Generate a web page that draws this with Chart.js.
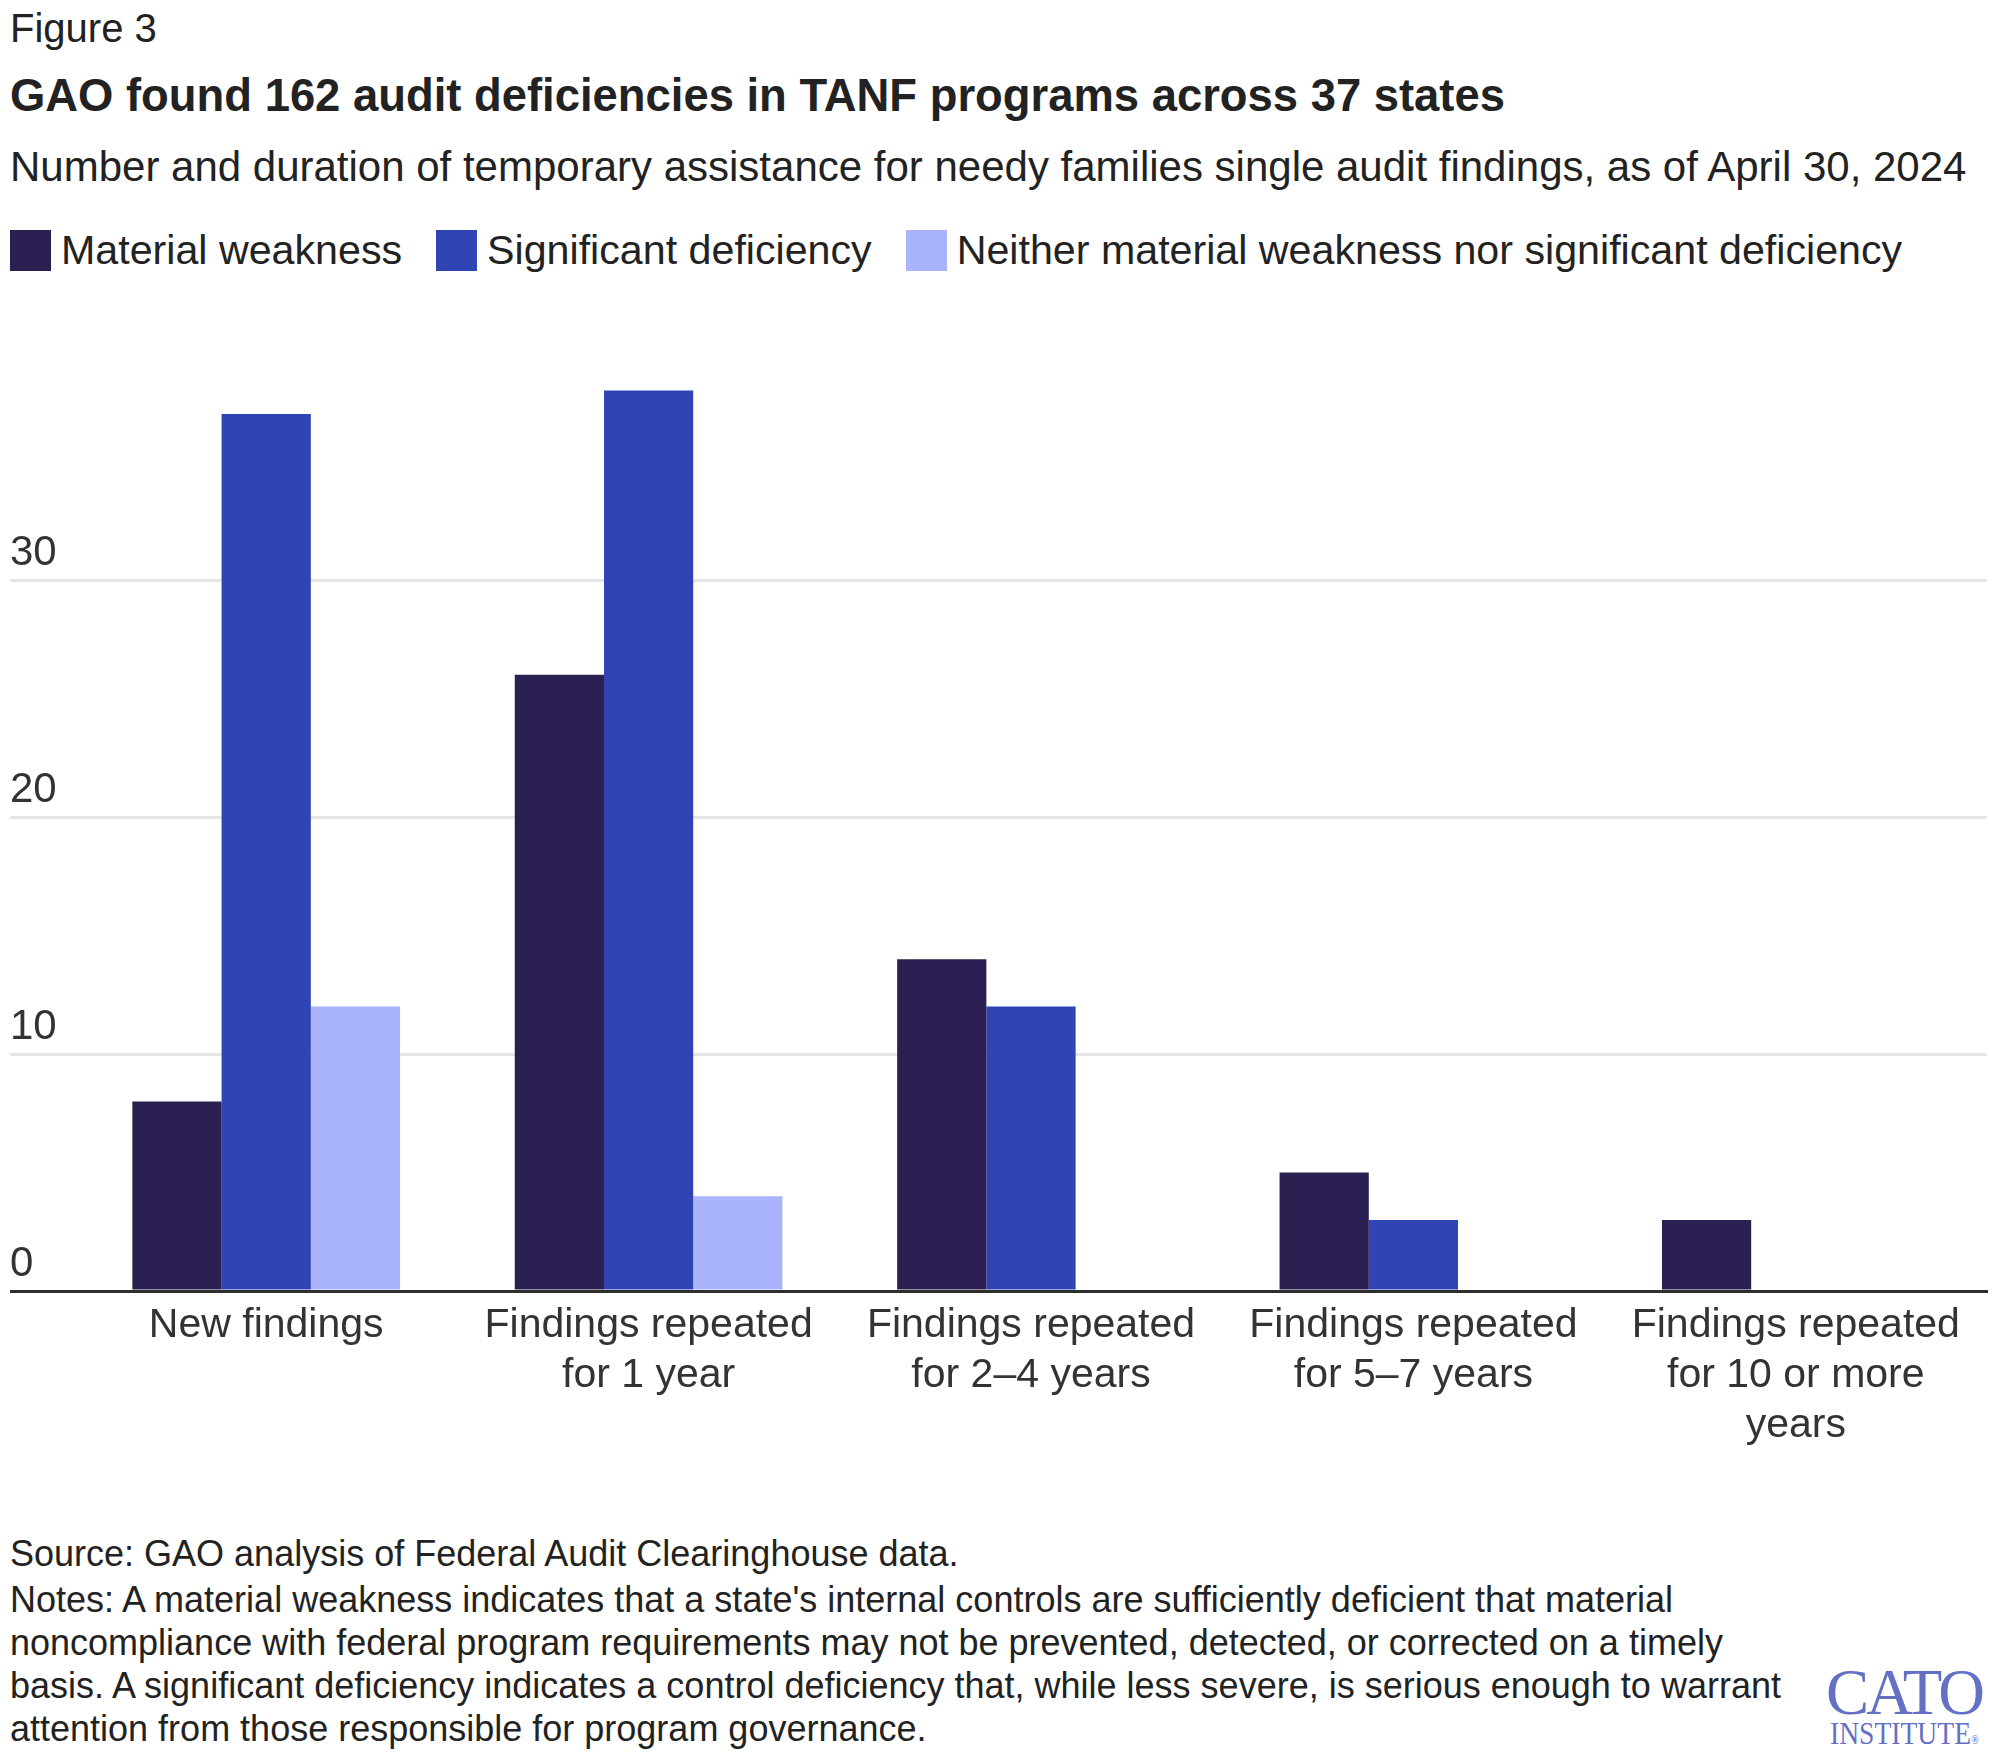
<!DOCTYPE html>
<html><head><meta charset="utf-8">
<script src="https://cdn.jsdelivr.net/npm/chart.js@4.4.1/dist/chart.umd.min.js"></script>
<style>
html,body{margin:0;padding:0;background:#fff;}
body{width:1997px;height:1763px;position:relative;overflow:hidden;font-family:"Liberation Sans",Arial,sans-serif;color:#222;}
.abs{position:absolute;white-space:nowrap;}
#fig{left:10px;top:4px;font-size:40px;line-height:48px;}
#title{left:10px;top:69px;font-size:45.4px;font-weight:bold;line-height:54px;}
#sub{left:10px;top:143px;font-size:42px;line-height:48px;}
#legend{left:10px;top:230px;height:41px;display:flex;align-items:center;}
.li{display:flex;align-items:center;margin-right:34px;font-size:41.2px;line-height:41px;}
.sw{width:41px;height:41px;margin-right:10px;flex:none;}
#wrap{position:absolute;left:0;top:300px;width:1997px;height:1180px;}
#notes{left:10px;top:1532px;font-size:36px;line-height:43px;color:#222;}
#notes div.src{margin-bottom:3px;}
#logo{left:1826px;top:1664px;color:#6470c4;font-family:"Liberation Serif","DejaVu Serif",serif;}
#logo .c{font-size:66px;line-height:56px;transform:scaleX(0.98);transform-origin:left top;letter-spacing:-3px;}
#logo .i{font-size:31px;line-height:28px;transform:scaleX(0.89);transform-origin:left top;margin-left:4px;}
</style></head>
<body>
<div id="fig" class="abs">Figure 3</div>
<div id="title" class="abs">GAO found 162 audit deficiencies in TANF programs across 37 states</div>
<div id="sub" class="abs">Number and duration of temporary assistance for needy families single audit findings, as of April 30, 2024</div>
<div id="legend" class="abs"></div>
<div id="wrap"><canvas id="c"></canvas></div>
<div id="notes" class="abs">
<div class="src">Source: GAO analysis of Federal Audit Clearinghouse data.</div>
<div>Notes: A material weakness indicates that a state's internal controls are sufficiently deficient that material</div>
<div>noncompliance with federal program requirements may not be prevented, detected, or corrected on a timely</div>
<div>basis. A significant deficiency indicates a control deficiency that, while less severe, is serious enough to warrant</div>
<div>attention from those responsible for program governance.</div>
</div>
<div id="logo" class="abs"><div class="c">CATO</div><div class="i">INSTITUTE<span style="font-size:12px">®</span></div></div>
<script>
const categories = [
  ["New findings"],
  ["Findings repeated", "for 1 year"],
  ["Findings repeated", "for 2–4 years"],
  ["Findings repeated", "for 5–7 years"],
  ["Findings repeated", "for 10 or more", "years"]
];
const seriesNames = ["Material weakness", "Significant deficiency", "Neither material weakness nor significant deficiency"];
const materialWeakness = [8, 26, 14, 5, 3];
const significantDeficiency = [37, 38, 12, 3, 0];
const neitherValues = [12, 4, 0, 0, 0];
const seriesColors = ["#2c2052", "#2f45b3", "#aab4fc"];
const yTicks = [0, 10, 20, 30];

const FONT = '"Liberation Sans", Arial, sans-serif';

// HTML legend
const lg = document.getElementById('legend');
seriesNames.forEach((n, i) => {
  const d = document.createElement('div'); d.className = 'li';
  const s = document.createElement('div'); s.className = 'sw'; s.style.background = seriesColors[i];
  const t = document.createElement('span'); t.textContent = n;
  d.appendChild(s); d.appendChild(t); lg.appendChild(d);
});

const seriesValues = [materialWeakness, significantDeficiency, neitherValues];
const canvas = document.getElementById('c');
canvas.width = 1997; canvas.height = 1180;
new Chart(canvas, {
  type: 'bar',
  data: {
    labels: categories,
    datasets: seriesValues.map((v, i) => ({
      label: seriesNames[i], data: v, backgroundColor: seriesColors[i],
      borderWidth: 0, categoryPercentage: 0.7, barPercentage: 1.0
    }))
  },
  options: {
    responsive: false, animation: false,
    layout: { padding: { left: 10, right: 10, top: 43, bottom: 0 } },
    plugins: { legend: { display: false }, tooltip: { enabled: false } },
    scales: {
      x: {
        z: 1,
        grid: { display: false, drawTicks: false },
        border: { display: true, color: '#2e2e2e', width: 3 },
        ticks: { font: { family: FONT, size: 41, lineHeight: 1.22 }, color: '#333', padding: 10, maxRotation: 0, autoSkip: false },
        afterFit: s => { s.height = 189; }
      },
      y: {
        min: 0, max: 40,
        afterBuildTicks: s => { s.ticks = yTicks.map(v => ({ value: v })); },
        ticks: { font: { family: FONT, size: 42 }, color: '#333', crossAlign: 'far', labelOffset: -27, padding: 0 },
        grid: {
          color: c => (c.tick && c.tick.value === 0) ? '#2e2e2e' : '#e6e6e6',
          tickColor: c => (c.tick && c.tick.value === 0) ? '#2e2e2e' : '#e6e6e6',
          lineWidth: 3, tickWidth: 3, drawTicks: true, tickLength: 65
        },
        border: { display: false },
        afterFit: s => { s.width = 65; }
      }
    }
  }
});
</script>
</body></html>
